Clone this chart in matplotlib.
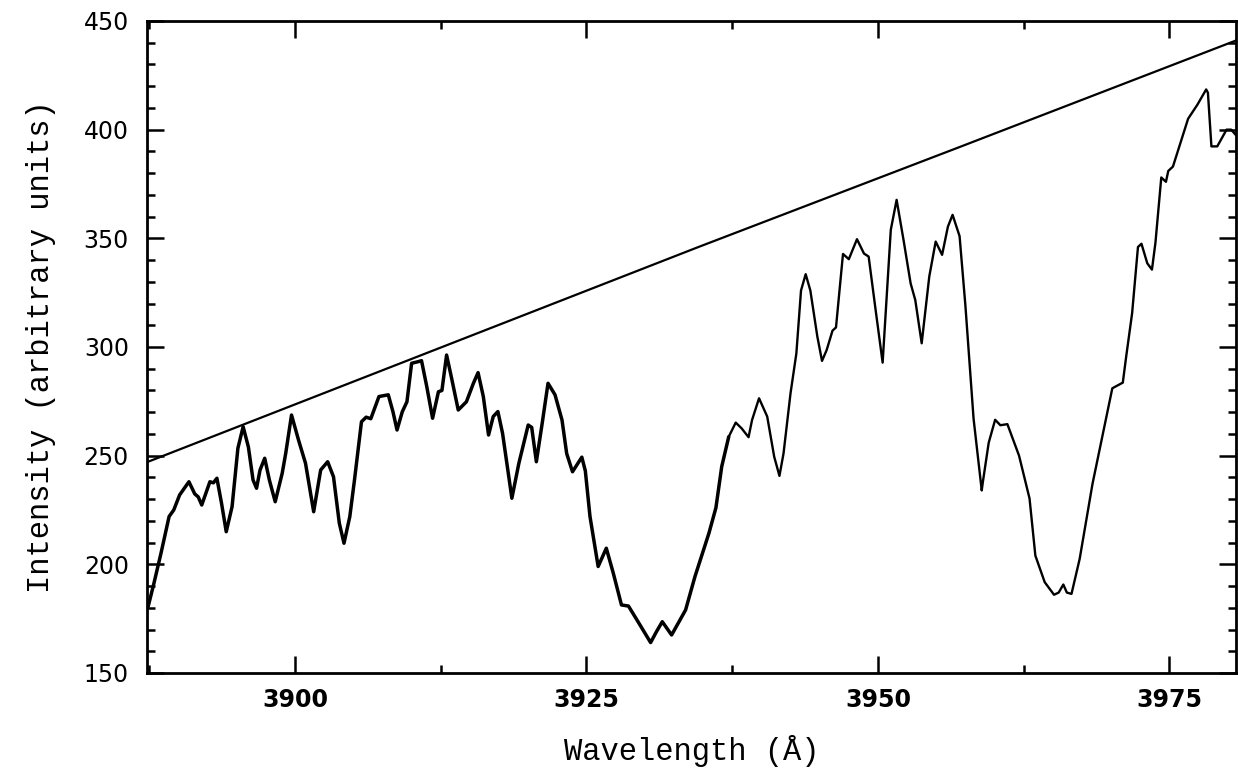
import matplotlib.pyplot as plt
from matplotlib.ticker import MultipleLocator

# observed spectrum (wavelength in Angstrom, intensity)
wavelength = [
    3887.4, 3887.9, 3888.5, 3889.2, 3889.6, 3890.1, 3890.9, 3891.4, 3891.7, 3892.0,
    3892.7, 3893.0, 3893.3, 3893.7, 3894.1, 3894.6, 3895.1, 3895.55, 3896.0, 3896.4,
    3896.7, 3897.0, 3897.4, 3897.8, 3898.3, 3898.9, 3899.2, 3899.7, 3900.3, 3900.9,
    3901.6, 3902.2, 3902.8, 3903.3, 3903.8, 3904.2, 3904.7, 3905.1, 3905.7, 3906.1,
    3906.5, 3907.2, 3908.0, 3908.4, 3908.75, 3909.2, 3909.6, 3910.0, 3910.6, 3910.85,
    3911.3, 3911.8, 3912.3, 3912.6, 3913.0, 3913.4, 3914.0, 3914.7, 3915.3, 3915.7,
    3916.15, 3916.6, 3917.0, 3917.4, 3917.8, 3918.6, 3919.2, 3920.0, 3920.3, 3920.7,
    3921.2, 3921.7, 3922.3, 3922.9, 3923.3, 3923.8, 3924.6, 3924.9, 3925.3, 3926.0,
    3926.7, 3927.3, 3928.0, 3928.6, 3929.5, 3930.5, 3931.0, 3931.5, 3932.3, 3933.5,
    3934.3, 3935.5, 3936.1, 3936.6, 3937.2, 3937.8, 3938.3, 3938.9, 3939.2, 3939.8,
    3940.5, 3941.1, 3941.55, 3941.9, 3942.5, 3943.0, 3943.4, 3943.8, 3944.2, 3944.8,
    3945.2, 3945.6, 3946.1, 3946.4, 3947.0, 3947.5, 3948.2, 3948.8, 3949.2, 3949.8,
    3950.4, 3951.1, 3951.6, 3952.2, 3952.8, 3953.2, 3953.75, 3954.4, 3954.95, 3955.5,
    3956.0, 3956.4, 3957.0, 3957.5, 3958.2, 3958.9, 3959.0, 3959.5, 3960.05, 3960.5,
    3961.1, 3962.1, 3963.0, 3963.5, 3964.3, 3965.1, 3965.5, 3965.9, 3966.2, 3966.6,
    3967.3, 3968.4, 3970.1, 3971.0, 3971.3, 3971.8, 3972.3, 3972.6, 3973.1, 3973.5,
    3973.8, 3974.3, 3974.7, 3974.9, 3975.3, 3976.6, 3977.4, 3978.15, 3978.3, 3978.6,
    3979.1, 3979.9, 3980.3, 3980.7,
]
intensity = [
    180.5, 191.3, 205, 222, 225, 231.9, 238, 232.4, 231, 227.3,
    238, 237.5, 239.6, 228, 215, 226.5, 253.4, 263.3, 254, 238.8,
    235, 243.4, 248.8, 238.8, 228.8, 241.9, 251, 268.7, 257.2, 246.5,
    224.2, 243.4, 247.2, 240.3, 218.9, 209.7, 222, 238.8, 265.6, 267.7,
    267, 277.2, 278, 270.2, 261.8, 270.2, 274.8, 292.5, 293.3, 293.7,
    281.8, 267.2, 279.4, 280, 296.3, 286.4, 271, 274.8, 283.3, 288.2,
    277.2, 259.5, 268, 270.3, 260.3, 230.4, 246.5, 264.1, 263, 247.2,
    264.9, 283.3, 278, 266.4, 251, 242.6, 249.3, 243, 222, 199,
    207.4, 195.9, 181.3, 180.8, 172.9, 164, 169, 173.6, 167.5, 179,
    194.3, 214.3, 226, 245, 258.7, 265.2, 262.6, 258.5, 266.4, 276.4,
    268, 249.5, 240.7, 251, 278.7, 297, 326, 333.5, 326, 304.8,
    293.6, 298.6, 307.5, 309, 342.8, 340.4, 349.6, 343, 341.6, 317,
    292.8, 353.9, 367.7, 349, 329.3, 321.6, 301.7, 332.4, 348.5, 342.4,
    355.4, 360.8, 351, 319, 267, 234, 238, 256, 266.5, 264,
    264.5, 250, 230.3, 204, 191.8, 186, 187, 190.7, 187, 186.4,
    202.5, 237, 281, 283.6, 296, 315.6, 346, 347.5, 338.5, 335.6,
    348, 378, 376, 381, 383, 405, 411.5, 418.5, 417, 392.3,
    392.3, 400, 400, 397.5,
]

# fitted continuum
cont_wavelength = [3887.3, 3934.6, 3957.0, 3980.7]
cont_intensity = [247, 346, 392, 441]

mono = ['Liberation Mono', 'DejaVu Sans Mono']

fig = plt.figure(figsize=(12.38, 7.83), dpi=100)
ax = fig.add_axes([0.1187, 0.1405, 0.8796, 0.8327])

ax.plot(cont_wavelength, cont_intensity, color='black', lw=1.6)

# the trace is drawn heavier on the blue side, lighter on the red side
split = 94
ax.plot(wavelength[:split + 1], intensity[:split + 1], color='black', lw=2.5,
        solid_joinstyle='round', solid_capstyle='round')
ax.plot(wavelength[split:], intensity[split:], color='black', lw=1.7,
        solid_joinstyle='round', solid_capstyle='round')

ax.set_xlim(3887.3, 3980.7)
ax.set_ylim(150, 450)

ax.xaxis.set_major_locator(MultipleLocator(25))
ax.xaxis.set_minor_locator(MultipleLocator(12.5))
ax.yaxis.set_major_locator(MultipleLocator(50))
ax.yaxis.set_minor_locator(MultipleLocator(10))

ax.tick_params(which='both', direction='in', top=True, right=True, width=1.8)
ax.tick_params(which='major', length=12)
ax.tick_params(which='minor', length=6)
ax.tick_params(axis='x', pad=11)
ax.tick_params(axis='y', pad=13)

for lab in ax.get_xticklabels():
    lab.set_fontsize(17)
    lab.set_fontweight('bold')
for lab in ax.get_yticklabels():
    lab.set_fontsize(17)

for sp in ax.spines.values():
    sp.set_linewidth(2.0)

ax.set_xlabel('Wavelength (Å)', family=mono, fontsize=22, labelpad=16)
ax.set_ylabel('Intensity (arbitrary units)', family=mono, fontsize=22, labelpad=20)

fig.savefig('out.png', dpi=100)
